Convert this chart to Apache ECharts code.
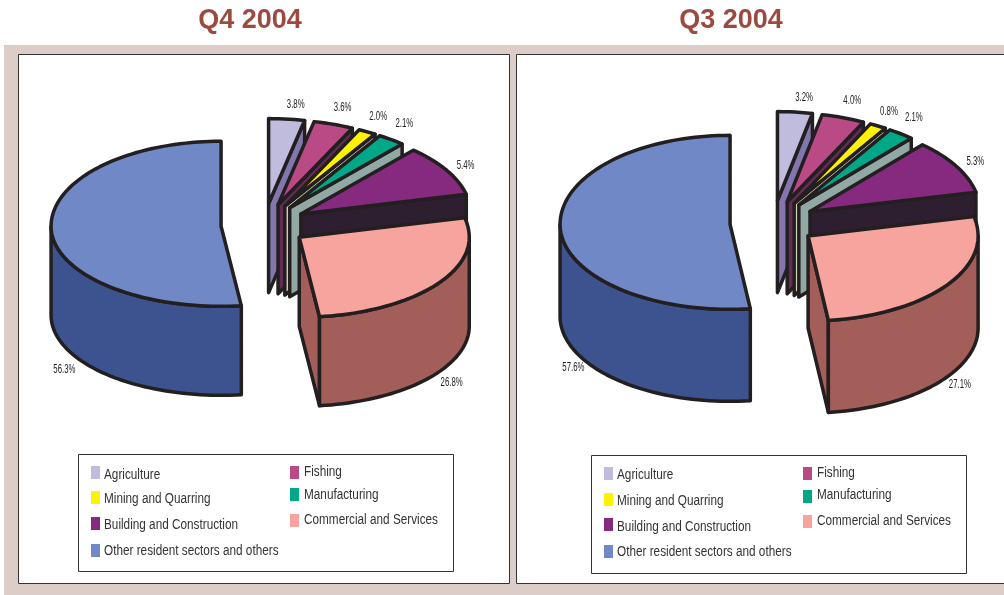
<!DOCTYPE html>
<html><head><meta charset="utf-8">
<style>html,body{margin:0;padding:0;background:#fff}#c{width:1004px;height:595px}</style>
<script src="https://cdn.jsdelivr.net/npm/echarts@6/dist/echarts.min.js"></script>
</head><body><div id="c"></div>
<script>
const categories = ['Agriculture','Fishing','Mining and Quarring','Manufacturing','Building and Construction','Commercial and Services','Other resident sectors and others'];
// Values printed beside the slices
const q4Printed = [3.8,3.6,2.0,2.1,5.4,26.8,56.3];
const q3Printed = [3.2,4.0,0.8,2.1,5.3,27.1,57.6];
// Slice shares as actually drawn in the picture (the source's slices are not all proportional to their printed numbers)
const q4Drawn = [3.4,3.8,1.7,2.6,9.8,26.8,51.9];
const q3Drawn = [3.3,4.1,1.6,2.5,10.0,26.6,51.9];
const topColors  = ['#bfbcdd','#b94a86','#fff200','#00a888','#862a80','#f6a49d','#7088c5'];
const sideColors = ['#8277ad','#642c55','#d8d6b8','#91a8a5','#2d1e30','#a45e5a','#3c538f'];

const panels = [
  {title:'Q4 2004', titleX:250, printed:q4Printed, drawn:q4Drawn, cx:264, cy:225, rx:170, ryBack:85, ryFront:80, depth:89, explode:43,
   nudge:[[9,-15],[9,-17],[11,-15],[13,-16],[19,-5],[13,99],[13,138]],
   legend:[[91,466],[290,466],[91,491],[290,488],[91,517],[290,514],[91,544]],
   legendText:[[104,475],[304,472],[104,499],[304,495],[104,525],[304,520],[104,551]]},
  {title:'Q3 2004', titleX:731, printed:q3Printed, drawn:q3Drawn, cx:773, cy:223, rx:170, ryBack:89, ryFront:85, depth:92, explode:43,
   nudge:[[9,-15],[9,-17],[11,-15],[13,-16],[19,-5],[13,99],[13,138]],
   legend:[[604,467],[803,467],[604,493],[803,490],[604,518],[803,515],[604,545]],
   legendText:[[617,475],[817,473],[617,501],[817,495],[617,527],[817,521],[617,552]]}
];
const INK = '#231f20';
const FONT = '"Liberation Sans",Arial,sans-serif';

function pt(c, p, t){ // t in degrees clockwise from 12 o'clock on the tilted ellipse
  const a = t*Math.PI/180, co=Math.cos(a);
  return [c[0]+p.rx*Math.sin(a), c[1]-(co>0?p.ryBack:p.ryFront)*co];
}
function arc(c,p,t0,t1){
  const n = Math.max(2,Math.ceil(Math.abs(t1-t0)/2)), out=[];
  for(let i=0;i<=n;i++) out.push(pt(c,p,t0+(t1-t0)*i/n));
  return out;
}
const down = (q,d)=>[q[0],q[1]+d];
function poly(points,fill,z2){
  return {type:'polygon',z2:z2,shape:{points},style:{fill,stroke:INK,lineWidth:3.5,lineJoin:'round'}};
}
function makeRender(p,i){
  return function(params,api){
    const angle = v => echarts.number.linearMap(v,[0,100],[0,360]);
    let before = 0; for(let k=0;k<i;k++) before += p.drawn[k];
    const t0 = angle(before), t1 = angle(before+api.value(0)), m=(t0+t1)/2;
    const c = pt([p.cx,p.cy],{rx:p.explode,ryBack:p.explode*p.ryBack/p.rx,ryFront:p.explode*p.ryBack/p.rx},m);
    const d = p.depth, kids=[];
    const s=Math.sin(t1*Math.PI/180), s0=Math.sin(t0*Math.PI/180);
    if(s0<-1e-6){const a=pt(c,p,t0);kids.push(poly([c,a,down(a,d),down(c,d)],sideColors[i],1));}
    if(s>1e-6){const a=pt(c,p,t1);kids.push(poly([c,a,down(a,d),down(c,d)],sideColors[i],1));}
    const a0=Math.max(t0,90), a1=Math.min(t1,270);
    if(a1>a0){const r=arc(c,p,a0,a1);kids.push(poly(r.concat(r.slice().reverse().map(q=>down(q,d))),sideColors[i],2));}
    kids.push(poly([c].concat(arc(c,p,t0,t1)),topColors[i],3));
    const o=pt(c,p,m);
    kids.push({type:'text',z2:9,x:o[0]+p.nudge[i][0],y:o[1]+p.nudge[i][1],scaleX:0.6,
      style:{text:p.printed[i].toFixed(1)+'%',fill:'#222',font:'13px '+FONT,align:'center',verticalAlign:'middle'}});
    return {type:'group',children:kids};
  };
}
const series=[], legends=[], legendTexts=[];
panels.forEach((p,pi)=>{
  categories.forEach((name,i)=>{
    series.push({type:'custom',name,coordinateSystem:'none',silent:true,z:2+i,animation:false,
      itemStyle:{color:topColors[i]},data:[[p.drawn[i]]],renderItem:makeRender(p,i)});
    legends.push({data:[name],left:p.legend[i][0],top:p.legend[i][1],padding:0,itemWidth:9,itemHeight:13,icon:'rect',
      selectedMode:false,formatter:()=>''});
    legendTexts.push({type:'text',x:p.legendText[i][0],y:p.legendText[i][1],scaleX:0.84,silent:true,z:6,
      style:{text:name,fill:'#333',font:'14px '+FONT,align:'left',verticalAlign:'middle'}});
  });
});
const rect=(x,y,w,h,fill,stroke)=>({type:'rect',shape:{x,y,width:w,height:h},style:{fill,stroke:stroke||null,lineWidth:1},silent:true});
const chart=echarts.init(document.getElementById('c'),null,{renderer:'canvas'});
chart.setOption({
  animation:false,
  title:panels.map(p=>({text:p.title,left:p.titleX,top:7,textAlign:'center',padding:0,
    textStyle:{fontFamily:FONT,fontSize:27,fontWeight:'bold',color:'#9c4a40'}})),
  legend:legends,
  graphic:{elements:[
    rect(4,45,1000,550,'#ddcdc9'),
    rect(18.5,54.5,491,529,'#fff','#333'),
    rect(516.5,54.5,500,529,'#fff','#333'),
    rect(78.5,454.5,375,117,'#fff','#333'),
    rect(591.5,455.5,375,118,'#fff','#333')
  ].concat(legendTexts)},
  series
});
</script></body></html>
